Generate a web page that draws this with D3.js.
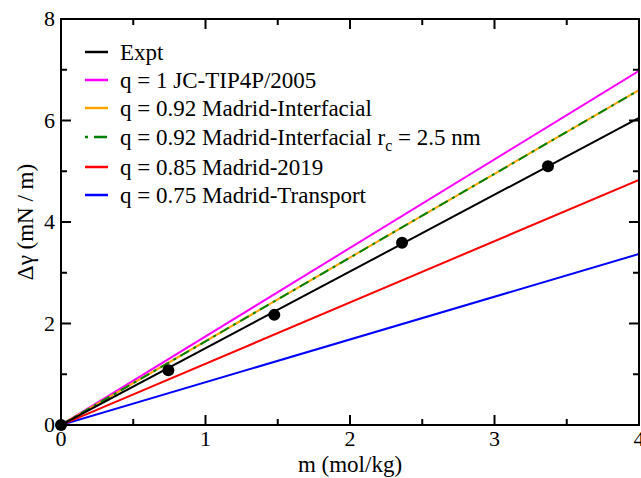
<html><head><meta charset="utf-8">
<script src="https://cdn.jsdelivr.net/npm/d3@7"></script>
</head><body style="margin:0"><svg id="c" width="641" height="478" style="font-family:'Liberation Serif',serif"></svg>
<script>
const xDomain = [0, 4];
const yDomain = [0, 8];
const xTicks = [0, 1, 2, 3, 4];
const yTicks = [0, 2, 4, 6, 8];
const seriesNames = ["Expt", "q = 1 JC-TIP4P/2005", "q = 0.92 Madrid-Interfacial", "q = 0.92 Madrid-Interfacial r_c = 2.5 nm", "q = 0.85 Madrid-2019", "q = 0.75 Madrid-Transport"];
const seriesColors = ["#000000", "#ff00ff", "#ffa500", "#008000", "#ff0000", "#0000ff"];
const lineX = [0, 4];
const exptLine = [0, 6.05];
const jcLine = [0, 6.98];
const interLine = [0, 6.60];
const interRcLine = [0, 6.60];
const m2019Line = [0, 4.83];
const transLine = [0, 3.37];
const exptPointsX = [0, 0.743, 1.476, 2.36, 3.37];
const exptPointsY = [0, 1.08, 2.17, 3.59, 5.10];

const svg = d3.select("#c");
const fontOf = s => `${s}px 'Liberation Serif', serif`;
const L = 61, R = 639, T = 19, B = 425;
const x = d3.scaleLinear().domain(xDomain).range([L, R]);
const y = d3.scaleLinear().domain(yDomain).range([B, T]);

svg.append("clipPath").attr("id","cp").append("rect").attr("x",L).attr("y",T).attr("width",R-L).attr("height",B-T);

const lines = [exptLine, jcLine, interLine, interRcLine, m2019Line, transLine];
const lg = d3.line().x((d,i)=>x(lineX[i])).y(d=>y(d));
const order = [5,4,1,2,3,0];
order.forEach(k=>{
  const p = svg.append("path").attr("clip-path","url(#cp)")
    .attr("d", lg(lines[k])).attr("fill","none")
    .attr("stroke", seriesColors[k]).attr("stroke-width", 2);
  if (k===3) p.attr("stroke-dasharray","10,5,3,5");
});

svg.append("g").selectAll("circle").data(exptPointsX).join("circle")
  .attr("cx", d=>x(d)).attr("cy",(d,i)=>y(exptPointsY[i])).attr("r",6).attr("fill","#000");

svg.append("rect").attr("x",L).attr("y",T).attr("width",R-L).attr("height",B-T)
  .attr("fill","none").attr("stroke","#000").attr("stroke-width",2);

const xMinor = d3.range(0, 4.01, 0.5);
const yMinor = d3.range(0, 8.01, 1);
const tk = svg.append("g").attr("stroke","#000").attr("stroke-width",2);
xMinor.forEach(v=>{
  const major = xTicks.includes(v); const len = major?10:6;
  tk.append("line").attr("x1",x(v)).attr("x2",x(v)).attr("y1",B).attr("y2",B-len);
  tk.append("line").attr("x1",x(v)).attr("x2",x(v)).attr("y1",T).attr("y2",T+len);
});
yMinor.forEach(v=>{
  const major = yTicks.includes(v); const len = major?10:6;
  tk.append("line").attr("y1",y(v)).attr("y2",y(v)).attr("x1",L).attr("x2",L+len);
  tk.append("line").attr("y1",y(v)).attr("y2",y(v)).attr("x1",R).attr("x2",R-len);
});

svg.append("g").selectAll("text").data(xTicks).join("text")
  .style("font", fontOf(22))
  .attr("x",d=>x(d)).attr("y",B+21).attr("text-anchor","middle").text(d=>d);
svg.append("g").selectAll("text").data(yTicks).join("text")
  .style("font", fontOf(22))
  .attr("x",L-6).attr("y",d=>y(d)+7).attr("text-anchor","end").text(d=>d);

svg.append("text").style("font", fontOf(23)).attr("x",(L+R)/2).attr("y",472).attr("text-anchor","middle")
  .text("m (mol/kg)");
svg.append("text").style("font", fontOf(23)).attr("transform",`translate(33,${(T+B)/2}) rotate(-90)`)
  .attr("text-anchor","middle").text("Δγ (mN / m)");

const rowY = [52, 80, 108, 137, 167, 195];
const lgd = svg.append("g");
seriesNames.forEach((n,i)=>{
  const ln = lgd.append("line").attr("x1",85).attr("x2",108).attr("y1",rowY[i]).attr("y2",rowY[i])
    .attr("stroke",seriesColors[i]).attr("stroke-width",2.5);
  if (i===3) ln.attr("stroke-dasharray","3,6,10,0");
  const t = lgd.append("text").style("font", fontOf(23)).attr("x",120).attr("y",rowY[i]+8);
  if (n.includes("r_c")) {
    const parts = n.split("r_c");
    t.append("tspan").text(parts[0] + "r");
    t.append("tspan").attr("dy",6).style("font-size","16px").text("c");
    t.append("tspan").attr("dy",-6).style("font-size","23px").text(parts[1]);
  } else t.text(n);
});
</script></body></html>
